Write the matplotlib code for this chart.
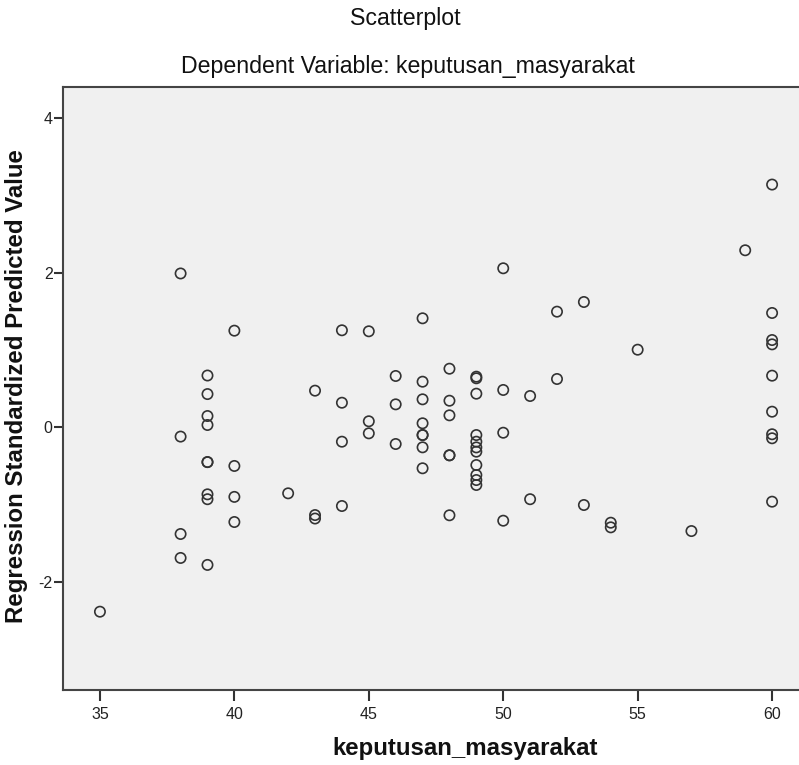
import matplotlib
matplotlib.use('Agg')
import matplotlib.pyplot as plt

# --------------------------------------------------
# Data read off the SPSS scatterplot
# --------------------------------------------------
keputusan = [35,
             38, 38, 38, 38,
             39, 39, 39, 39, 39, 39, 39, 39, 39,
             40, 40, 40, 40,
             42,
             43, 43, 43,
             44, 44, 44, 44,
             45, 45, 45,
             46, 46, 46,
             47, 47, 47, 47, 47, 47, 47, 47,
             48, 48, 48, 48, 48, 48,
             49, 49, 49, 49, 49, 49, 49, 49, 49, 49, 49,
             50, 50, 50, 50,
             51, 51,
             52, 52,
             53, 53,
             54, 54,
             55,
             57,
             59,
             60, 60, 60, 60, 60, 60, 60, 60, 60]

predicted = [-2.385,
             1.99, -0.12, -1.38, -1.69,
             0.67, 0.43, 0.146, 0.03, -0.45, -0.45, -0.867, -0.93, -1.78,
             1.25, -0.50, -0.90, -1.225,
             -0.854,
             0.474, -1.135, -1.18,
             1.255, 0.318, -0.186, -1.018,
             1.242, 0.078, -0.078,
             0.664, 0.297, -0.216,
             1.41, 0.59, 0.362, 0.052, -0.10, -0.10, -0.259, -0.53,
             0.758, 0.344, 0.155, -0.362, -0.362, -1.138,
             0.655, 0.634, 0.435, -0.10, -0.186, -0.26, -0.315, -0.488, -0.617, -0.682, -0.746,
             2.057, 0.483, -0.07, -1.208,
             0.405, -0.93,
             1.496, 0.625,
             1.621, -1.005,
             -1.234, -1.294,
             1.004,
             -1.342,
             2.29,
             3.14, 1.479, 1.129, 1.073, 0.668, 0.202, -0.09, -0.142, -0.962]

x_ticks = [35, 40, 45, 50, 55, 60]
y_ticks = [-2, 0, 2, 4]

fam = ['Liberation Sans', 'DejaVu Sans']

W, H = 799, 765
fig = plt.figure(figsize=(W / 100, H / 100), dpi=100)
fig.patch.set_facecolor('white')

# axes: left 63px, top 87px, bottom 690px, right runs off the canvas
ax = fig.add_axes([63 / W, 1 - 690 / H, (810 - 63) / W, (690 - 87) / H])
ax.set_facecolor('#f0f0f0')

ax.scatter(keputusan, predicted, s=55, facecolors='none',
           edgecolors='#333333', linewidths=1.2, zorder=3)

ax.set_xlim(33.626, 61.41)
ax.set_ylim(-3.398, 4.402)
ax.set_xticks(x_ticks)
ax.set_yticks(y_ticks)
ax.set_xticklabels([str(v) for v in x_ticks], family=fam, fontsize=11.5, color='#222222')
ax.set_yticklabels([str(v) for v in y_ticks], family=fam, fontsize=11.5, color='#222222')
ax.tick_params(axis='x', length=8, width=1.5, color='#333333', pad=4)
ax.tick_params(axis='y', length=6.5, width=1.5, color='#333333', pad=1)

for side in ['left', 'bottom', 'top']:
    ax.spines[side].set_color('#444444')
    ax.spines[side].set_linewidth(1.5)
ax.spines['right'].set_visible(False)

fig.text(0.507, 1 - 19 / H, 'Scatterplot', ha='center', va='center',
         family=fam, fontsize=16.7, color='#111111')
fig.text(0.510, 1 - 67 / H, 'Dependent Variable: keputusan_masyarakat', ha='center', va='center',
         family=fam, fontsize=16.7, color='#111111')

fig.text(465 / W, 1 - 748 / H, 'keputusan_masyarakat', ha='center', va='center',
         family=fam, fontweight='bold', fontsize=17.3, color='#111111')
fig.text(17 / W, 1 - 386 / H, 'Regression Standardized Predicted Value', ha='center', va='center',
         rotation=90, family=fam, fontweight='bold', fontsize=17.3, color='#111111')

fig.savefig('out.png', dpi=100)
